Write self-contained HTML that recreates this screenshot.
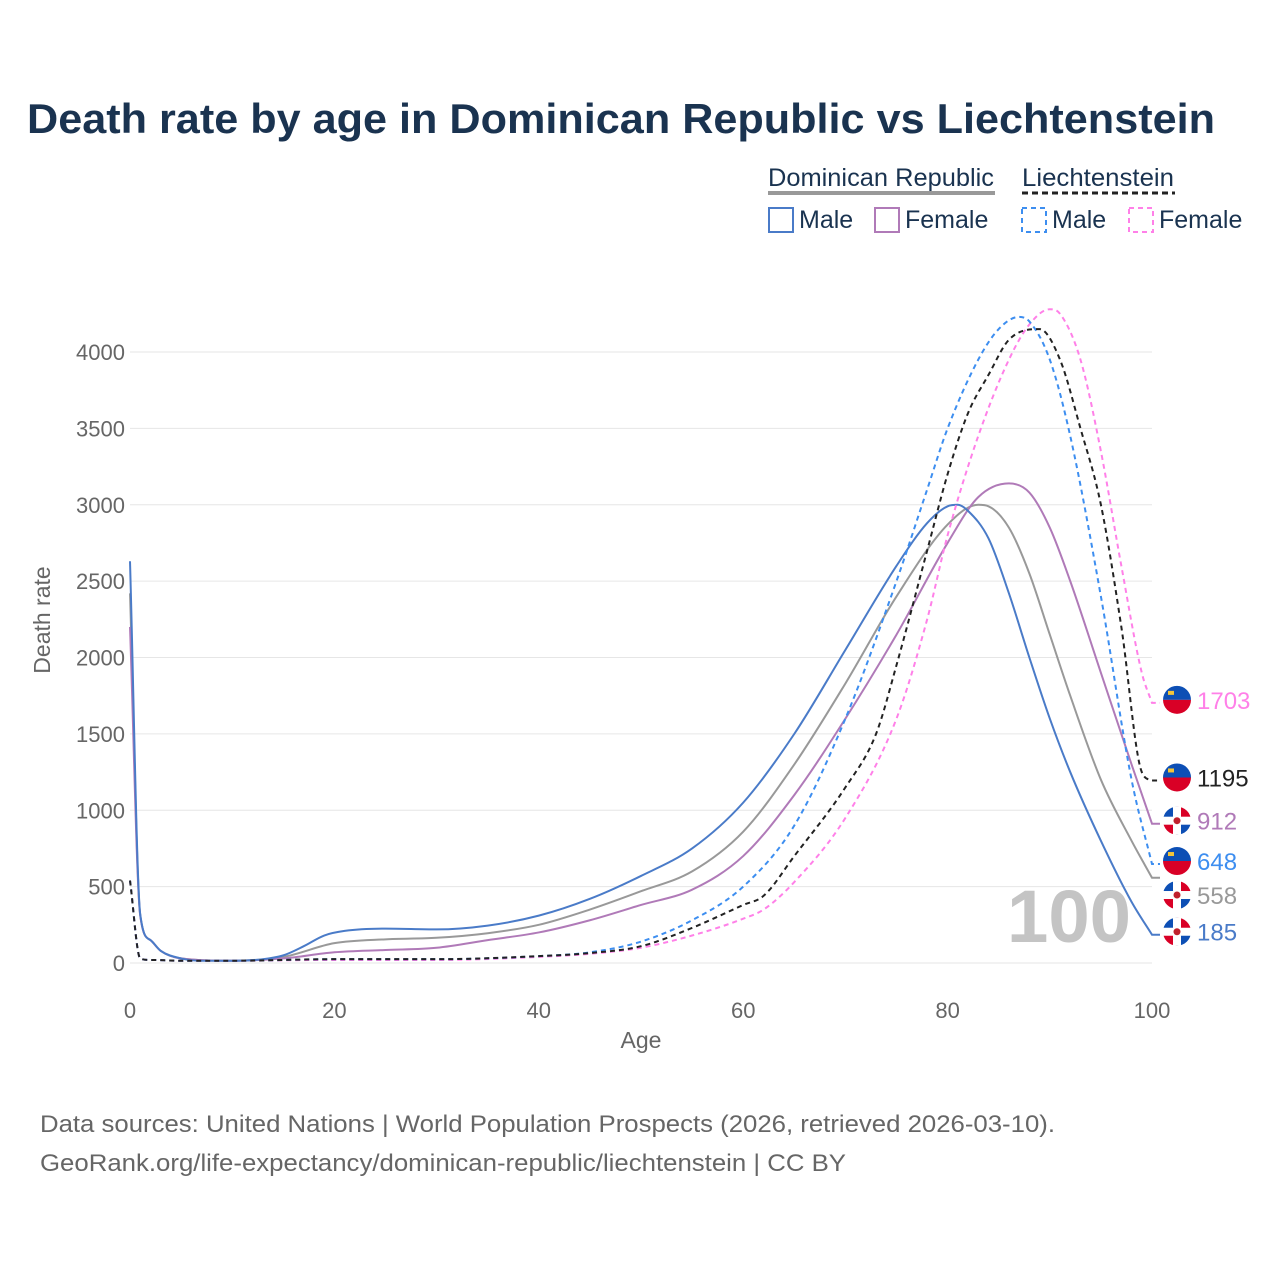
<!DOCTYPE html>
<html><head><meta charset="utf-8">
<style>
body{margin:0;background:#fff;font-family:"Liberation Sans",sans-serif;}
#wrap{position:relative;width:1280px;height:1280px;}
</style></head>
<body>
<div id="wrap">
<svg id="chart" width="1280" height="1280">
<text x="27" y="133" font-size="42" font-weight="bold" fill="#1a3350" textLength="1188" lengthAdjust="spacingAndGlyphs">Death rate by age in Dominican Republic vs Liechtenstein</text>
<g font-size="25" fill="#1a3350">
<text x="768" y="186" textLength="226" lengthAdjust="spacingAndGlyphs">Dominican Republic</text>
<line x1="768" y1="193" x2="995" y2="193" stroke="#999" stroke-width="4"/>
<text x="1022" y="186" textLength="152" lengthAdjust="spacingAndGlyphs">Liechtenstein</text>
<line x1="1022" y1="193" x2="1175" y2="193" stroke="#222" stroke-width="3" stroke-dasharray="6,4"/>
<rect x="769" y="208" width="24" height="24" fill="none" stroke="#4a7bc8" stroke-width="2"/>
<text x="799" y="228">Male</text>
<rect x="875" y="208" width="24" height="24" fill="none" stroke="#b07ab8" stroke-width="2"/>
<text x="905" y="228">Female</text>
<rect x="1022" y="208" width="24" height="24" fill="none" stroke="#3d8ef0" stroke-width="2" stroke-dasharray="5,4"/>
<text x="1052" y="228">Male</text>
<rect x="1129" y="208" width="24" height="24" fill="none" stroke="#ff80e8" stroke-width="2" stroke-dasharray="5,4"/>
<text x="1159" y="228">Female</text>
</g>
<g id="grid"></g>
<text x="1007" y="942" font-size="74" font-weight="bold" fill="#c4c4c4" textLength="124" lengthAdjust="spacingAndGlyphs">100</text>
<g id="series"></g>
<g id="ends"></g>
<text transform="translate(50,620) rotate(-90)" text-anchor="middle" font-size="23" fill="#666">Death rate</text>
<text x="641" y="1048" text-anchor="middle" font-size="23" fill="#666">Age</text>
<text x="40" y="1132" font-size="24" fill="#666" textLength="1015" lengthAdjust="spacingAndGlyphs">Data sources: United Nations | World Population Prospects (2026, retrieved 2026-03-10).</text>
<text x="40" y="1171" font-size="24" fill="#666" textLength="806" lengthAdjust="spacingAndGlyphs">GeoRank.org/life-expectancy/dominican-republic/liechtenstein | CC BY</text>
</svg>
</div>
<script>
const yTicks=[0,500,1000,1500,2000,2500,3000,3500,4000];
const xTicks=[0,20,40,60,80,100];
const drMaleAges=[0,1,2,3,5,7,10,13,15,17,19,21,25,30,35,40,45,50,55,60,65,70,75,78,80,81,82,84,86,88,90,92,95,98,100];
const drMaleVals=[2630,320,150,80,30,15,15,25,50,110,180,210,225,220,245,310,420,570,750,1050,1500,2050,2600,2880,2990,3000,2960,2780,2420,2000,1600,1250,800,400,185];
const drFemaleAges=[0,1,2,3,5,10,15,20,25,30,35,40,45,50,55,60,65,70,75,80,83,86,88,90,92,95,98,100];
const drFemaleVals=[2200,310,150,80,30,15,30,70,85,100,150,200,280,380,480,700,1100,1600,2150,2750,3050,3140,3080,2850,2500,1900,1300,912];
const drTotalAges=[0,1,2,3,5,10,15,20,25,30,35,40,45,50,55,60,65,70,75,80,83,84,86,88,90,92,95,98,100];
const drTotalVals=[2420,315,150,80,30,15,40,130,155,165,195,250,350,470,600,860,1300,1830,2400,2870,3000,2990,2850,2550,2150,1750,1200,800,558];
const liMaleAges=[0,1,2,5,10,20,30,40,45,50,55,60,65,70,75,78,80,83,85,87,88,90,92,95,98,100];
const liMaleVals=[540,30,20,15,15,25,25,45,70,140,280,500,900,1600,2500,3100,3500,3950,4150,4230,4200,3950,3450,2400,1200,648];
const liTotalAges=[0,1,2,5,10,20,30,40,45,50,55,60,62,65,70,73,75,78,80,82,84,86,89,91,93,95,97,99,100];
const liTotalVals=[540,30,20,15,15,25,25,45,65,110,230,380,440,700,1150,1500,1950,2700,3200,3600,3850,4080,4150,3950,3500,3000,2200,1250,1195];
const liFemaleAges=[0,1,2,5,10,20,30,40,45,50,55,60,62,65,70,75,78,80,83,86,88,90,91,93,95,97,99,100];
const liFemaleVals=[540,30,20,15,15,20,20,40,60,100,180,290,350,530,950,1600,2250,2800,3450,3950,4180,4280,4250,3950,3350,2600,1900,1703];

const X=a=>130+a*10.22, Y=v=>963-v*0.15275;
const NS="http://www.w3.org/2000/svg";
function mk(t,attrs,parent){const e=document.createElementNS(NS,t);for(const k in attrs)e.setAttribute(k,attrs[k]);parent.appendChild(e);return e;}
const grid=document.getElementById('grid');
yTicks.forEach(v=>{
 const l=mk('line',{x1:130,x2:1152,y1:Y(v),y2:Y(v),stroke:'#e6e6e6','stroke-width':1},grid);
 
 
 const t=mk('text',{x:125,y:Y(v)+8,'text-anchor':'end','font-size':22,fill:'#666'},grid);
 t.textContent=v;
 
 
});
xTicks.forEach(a=>{
 const t=mk('text',{x:X(a),y:1018,'text-anchor':'middle','font-size':22,fill:'#666'},grid);
 t.textContent=a;
 
 
});
function path(ages,vals){
 const xs=ages.map(X), ys=vals.map(Y), n=xs.length;
 const d=[],m=new Array(n);
 for(let i=0;i<n-1;i++)d.push((ys[i+1]-ys[i])/(xs[i+1]-xs[i]));
 m[0]=d[0];m[n-1]=d[n-2];
 for(let i=1;i<n-1;i++){m[i]=(d[i-1]*d[i]<=0)?0:(d[i-1]+d[i])/2;}
 for(let i=0;i<n-1;i++){
  if(d[i]===0){m[i]=0;m[i+1]=0;continue;}
  const a=m[i]/d[i],b=m[i+1]/d[i],s=a*a+b*b;
  if(s>9){const t=3/Math.sqrt(s);m[i]=t*a*d[i];m[i+1]=t*b*d[i];}
 }
 let p='M'+xs[0]+','+ys[0];
 for(let i=0;i<n-1;i++){
  const h=(xs[i+1]-xs[i])/3;
  p+=` C${xs[i]+h},${ys[i]+m[i]*h} ${xs[i+1]-h},${ys[i+1]-m[i+1]*h} ${xs[i+1]},${ys[i+1]}`;
 }
 p+=` L${X(100)+8},${ys[n-1]}`;
 return p;
}
const series=[
 {n:'dr-total',a:drTotalAges,v:drTotalVals,c:'#999',d:'',f:'dr'},
 {n:'dr-female',a:drFemaleAges,v:drFemaleVals,c:'#b07ab8',d:'',f:'dr'},
 {n:'dr-male',a:drMaleAges,v:drMaleVals,c:'#4a7bc8',d:'',f:'dr'},
 {n:'li-female',a:liFemaleAges,v:liFemaleVals,c:'#ff80e8',d:'5,4',f:'li'},
 {n:'li-male',a:liMaleAges,v:liMaleVals,c:'#3d8ef0',d:'5,4',f:'li'},
 {n:'li-total',a:liTotalAges,v:liTotalVals,c:'#222',d:'5,4',f:'li'}
];
const sg=document.getElementById('series');
series.forEach(s=>{
 const e=mk('path',{d:path(s.a,s.v),fill:'none',stroke:s.c,'stroke-width':2,'stroke-dasharray':s.d},sg);
 
 
});
const ends=series.map(s=>({s,v:s.v[s.v.length-1],y:Y(s.v[s.v.length-1])-3})).sort((a,b)=>a.y-b.y);
for(let i=1;i<ends.length;i++){if(ends[i].y-ends[i-1].y<34)ends[i].y=ends[i-1].y+34;}
const eg=document.getElementById('ends');
ends.forEach(o=>{
 const cx=1177,cy=o.y;
 const g=mk('g',{},eg);
 
 
 if(o.s.f==='li'){
  mk('path',{d:`M${cx-14},${cy} A14,14 0 0 1 ${cx+14},${cy} Z`,fill:'#0d4fb5'},g);
  mk('path',{d:`M${cx-14},${cy} A14,14 0 0 0 ${cx+14},${cy} Z`,fill:'#d90026'},g);
  mk('rect',{x:cx-9,y:cy-9,width:6,height:4,fill:'#f3c43a'},g);
 }else{
  mk('circle',{cx,cy,r:14,fill:'#fff'},g);
  mk('path',{d:`M${cx},${cy-14} A14,14 0 0 0 ${cx-14},${cy} L${cx-4},${cy} L${cx-4},${cy-4} L${cx},${cy-4}Z`,fill:'#0d4fb5'},g);
  mk('path',{d:`M${cx},${cy-14} A14,14 0 0 1 ${cx+14},${cy} L${cx+4},${cy} L${cx+4},${cy-4} L${cx},${cy-4}Z`,fill:'#d90026'},g);
  mk('path',{d:`M${cx},${cy+14} A14,14 0 0 1 ${cx-14},${cy} L${cx-4},${cy} L${cx-4},${cy+4} L${cx},${cy+4}Z`,fill:'#d90026'},g);
  mk('path',{d:`M${cx},${cy+14} A14,14 0 0 0 ${cx+14},${cy} L${cx+4},${cy} L${cx+4},${cy+4} L${cx},${cy+4}Z`,fill:'#0d4fb5'},g);
  mk('rect',{x:cx-4,y:cy-14,width:8,height:28,fill:'#fff'},g);
  mk('rect',{x:cx-14,y:cy-4,width:28,height:8,fill:'#fff'},g);
  mk('circle',{cx,cy,r:3.5,fill:'#c0202c'},g);
 }
 const t=mk('text',{x:1197,y:cy+9,'font-size':24,fill:o.s.c},eg);
 t.textContent=o.v;
 
 
});
</script>
</body></html>
